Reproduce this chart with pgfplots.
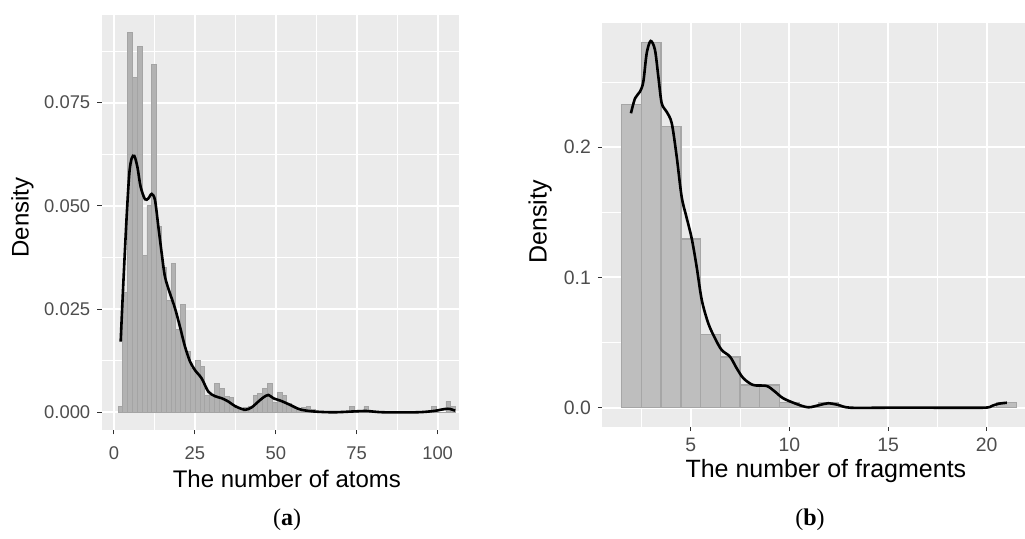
\documentclass[border=0pt]{standalone}
\usepackage{pgfplots}
\pgfplotsset{compat=1.18}
\usepackage{fontspec}
\setmainfont{Liberation Sans}
\newfontfamily\capfont{Liberation Serif}
\definecolor{ggbg}{HTML}{EBEBEB}
\definecolor{ggtext}{HTML}{4D4D4D}
\definecolor{ggtick}{HTML}{333333}
\definecolor{barfill}{HTML}{BEBEBE}
\definecolor{barline}{HTML}{A6A6A6}
\definecolor{barfillL}{HTML}{B2B2B2}
\definecolor{barlineL}{HTML}{A4A4A4}
\pgfplotsset{ggstyle/.style={
  scale only axis, anchor=south west,
  axis background/.style={fill=ggbg},
  axis line style={draw=none},
  tick align=outside, tick pos=left,
  major tick length=2.2pt, minor tick length=0pt,
  tick style={ggtick, line width=0.5pt},
  grid=both,
  major grid style={white, line width=1pt},
  minor grid style={white, line width=0.5pt},
  scaled ticks=false,
  clip=true,
}}
\pgfplotstableread{
x y
2.00 0.0014
3.49 0.029
4.98 0.092
6.47 0.081
7.96 0.0886
9.45 0.038
10.94 0.050
12.43 0.0843
13.92 0.045
15.41 0.035
16.90 0.027
18.39 0.036
19.88 0.020
21.37 0.026
22.86 0.0147
24.35 0.0107
25.84 0.0125
27.33 0.0112
28.82 0.0040
30.31 0.0040
31.80 0.0069
33.29 0.0058
34.78 0.0038
36.27 0.0036
37.76 0.0012
39.25 0.0010
40.74 0.0012
42.23 0.0014
43.72 0.0040
45.21 0.0045
46.70 0.0058
48.19 0.0070
49.68 0.0025
51.17 0.0048
52.66 0.0040
54.15 0.0022
55.64 0.0012
57.13 0.0007
58.62 0.0012
60.11 0.0014
61.60 0.0007
63.09 0
64.58 0
66.07 0
67.56 0
69.05 0
70.54 0
72.03 0
73.52 0.0014
75.01 0
76.50 0
77.99 0.0014
79.48 0
80.97 0
82.46 0
83.95 0
85.44 0
86.93 0
88.42 0
89.91 0
91.40 0
92.89 0
94.38 0
95.87 0
97.36 0
98.85 0.0014
100.34 0
101.83 0
103.32 0.0026
104.81 0.0014
}\atomshist
\pgfplotstableread{
x y
2.06 0.0171
2.88 0.0312
3.91 0.0474
4.74 0.0579
5.46 0.0615
6.28 0.0621
7.21 0.0595
8.24 0.0546
9.58 0.0516
10.61 0.0518
11.64 0.0529
12.67 0.0514
13.70 0.0450
14.74 0.0385
15.76 0.0328
17.30 0.0288
18.85 0.0252
20.39 0.0207
21.94 0.0159
23.49 0.0123
25.03 0.0102
27.09 0.0082
29.15 0.0050
31.21 0.0039
33.28 0.0034
35.34 0.0026
37.39 0.0015
40.48 0.0006
42.55 0.0012
44.61 0.0026
46.16 0.0036
47.70 0.0042
49.25 0.0034
51.82 0.0027
54.39 0.0018
57.48 0.0007
61.60 0.0002
67.78 0.0000
73.96 0.0002
78.08 0.0003
83.23 0.0000
93.53 0.0000
98.68 0.0003
102.3 0.0008
103.8 0.0008
105.4 0.0004
}\atomskde
\pgfplotstableread{
x y
2 0.2330
3 0.2806
4 0.2158
5 0.1296
6 0.0564
7 0.0389
8 0.0174
9 0.0174
10 0.0041
11 0
12 0.0041
13 0
14 0
15 0
16 0
17 0
18 0
19 0
20 0
21 0.0041
}\fraghist
\pgfplotstableread{
x y
1.97 0.2261
2.18 0.2376
2.43 0.2427
2.60 0.2504
2.77 0.2722
2.97 0.2816
3.19 0.2747
3.36 0.2542
3.53 0.2338
3.78 0.2273
4.04 0.2184
4.29 0.1928
4.54 0.1621
4.80 0.1455
5.05 0.1301
5.30 0.1083
5.56 0.0827
5.89 0.0648
6.23 0.0533
6.57 0.0443
6.99 0.0392
7.33 0.0303
7.67 0.0226
8.17 0.0174
8.85 0.0167
9.27 0.0123
9.69 0.0072
10.37 0.0028
10.96 0.0003
11.55 0.0021
11.97 0.0034
12.48 0.0021
13.07 0.0000
15.00 0.0000
17.00 0.0000
19.83 0.0000
20.25 0.0013
20.59 0.0030
21.02 0.0038
}\fragkde
\begin{document}
\begin{tikzpicture}
\useasboundingbox (0,0) rectangle (512.5pt,269.5pt);
\begin{axis}[ggstyle, at={(50.85pt,54.5pt)}, width=178.4pt, height=207.5pt,
  xmin=-3.8, xmax=106.45, ymin=-0.00429, ymax=0.09623,
  xtick={0,25,50,75,100}, xticklabels={0,25,50,75,100},
  minor xtick={12.5,37.5,62.5,87.5},
  ytick={0,0.025,0.05,0.075}, yticklabels={0.000,0.025,0.050,0.075},
  minor ytick={0.0125,0.0375,0.0625,0.0875},
  ticklabel style={font=\fontsize{9.2}{10}\selectfont, text=ggtext},
  xticklabel style={yshift=-2.5pt},
  xlabel={The number of atoms}, ylabel={Density},
  label style={font=\fontsize{12}{14}\selectfont},
  xlabel style={at={(axis description cs:0.519,-0.118)}, anchor=center},
  ylabel style={at={(axis description cs:-0.222,0.512)}, anchor=center},
]
\addplot[ybar, bar width=1.49, bar shift=0pt, fill=barfillL, draw=barlineL, line width=0.45pt] table[x=x,y=y] {\atomshist};
\addplot[black, line width=1.3pt, smooth, tension=0.5] table[x=x,y=y] {\atomskde};
\end{axis}
\begin{axis}[ggstyle, at={(301.15pt,56.15pt)}, width=211.35pt, height=201.7pt,
  xmin=0.52, xmax=21.94, ymin=-0.01459, ymax=0.2952,
  xtick={5,10,15,20}, xticklabels={5,10,15,20},
  minor xtick={2.5,7.5,12.5,17.5},
  ytick={0,0.1,0.2}, yticklabels={0.0,0.1,0.2},
  minor ytick={0.05,0.15,0.25},
  ticklabel style={font=\fontsize{9.7}{11}\selectfont, text=ggtext},
  xlabel={The number of fragments}, ylabel={Density},
  label style={font=\fontsize{12.5}{14}\selectfont},
  xlabel style={at={(axis description cs:0.529,-0.11)}, anchor=center},
  ylabel style={at={(axis description cs:-0.147,0.507)}, anchor=center},
]
\addplot[ybar, bar width=1, bar shift=0pt, fill=barfill, draw=barline, line width=0.7pt] table[x=x,y=y] {\fraghist};
\addplot[black, line width=1.3pt, smooth, tension=0.5] table[x=x,y=y] {\fragkde};
\end{axis}
\node[font=\capfont\fontsize{12}{14}\selectfont] at (143.5pt,9.5pt) {(\textbf{a})};
\node[font=\capfont\fontsize{12}{14}\selectfont] at (405pt,9.5pt) {(\textbf{b})};
\end{tikzpicture}
\end{document}
